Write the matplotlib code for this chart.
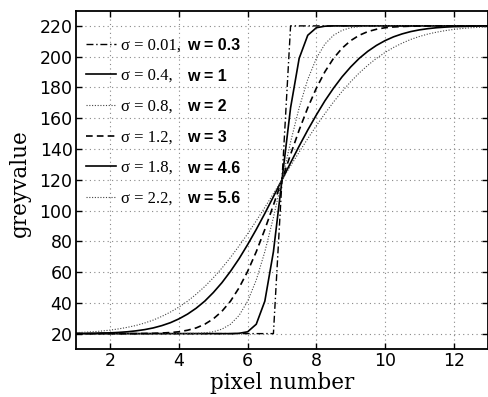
import matplotlib
matplotlib.use("Agg")
import matplotlib.pyplot as plt

# ---- data ----
x = [1.0, 1.25, 1.5, 1.75, 2.0, 2.25, 2.5, 2.75, 3.0, 3.25, 3.5, 3.75,
     4.0, 4.25, 4.5, 4.75, 5.0, 5.25, 5.5, 5.75, 6.0, 6.25, 6.5, 6.75,
     7.0,
     7.25, 7.5, 7.75, 8.0, 8.25, 8.5, 8.75, 9.0, 9.25, 9.5, 9.75, 10.0,
     10.25, 10.5, 10.75, 11.0, 11.25, 11.5, 11.75, 12.0, 12.25, 12.5, 12.75, 13.0]

y_s001 = [20.0, 20.0, 20.0, 20.0, 20.0, 20.0, 20.0, 20.0, 20.0, 20.0, 20.0, 20.0,
          20.0, 20.0, 20.0, 20.0, 20.0, 20.0, 20.0, 20.0, 20.0, 20.0, 20.0, 20.0,
          120.0,
          220.0, 220.0, 220.0, 220.0, 220.0, 220.0, 220.0, 220.0, 220.0, 220.0, 220.0, 220.0,
          220.0, 220.0, 220.0, 220.0, 220.0, 220.0, 220.0, 220.0, 220.0, 220.0, 220.0, 220.0]

y_s04 = [20.0, 20.0, 20.0, 20.0, 20.0, 20.0, 20.0, 20.0, 20.0, 20.0, 20.0, 20.0,
         20.0, 20.0, 20.0, 20.0, 20.0, 20.0, 20.0, 20.2, 21.2, 26.1, 41.1, 73.2,
         120.0,
         166.8, 198.9, 213.9, 218.8, 219.8, 220.0, 220.0, 220.0, 220.0, 220.0, 220.0, 220.0,
         220.0, 220.0, 220.0, 220.0, 220.0, 220.0, 220.0, 220.0, 220.0, 220.0, 220.0, 220.0]

y_s08 = [20.0, 20.0, 20.0, 20.0, 20.0, 20.0, 20.0, 20.0, 20.0, 20.0, 20.0, 20.0,
         20.0, 20.1, 20.2, 20.5, 21.2, 22.9, 26.1, 31.8, 41.1, 54.8, 73.2, 95.5,
         120.0,
         144.5, 166.8, 185.2, 198.9, 208.2, 213.9, 217.1, 218.8, 219.5, 219.8, 219.9, 220.0,
         220.0, 220.0, 220.0, 220.0, 220.0, 220.0, 220.0, 220.0, 220.0, 220.0, 220.0, 220.0]

y_s12 = [20.0, 20.0, 20.0, 20.0, 20.0, 20.0, 20.0, 20.0, 20.1, 20.2, 20.4, 20.7,
         21.2, 22.2, 23.7, 26.1, 29.6, 34.5, 41.1, 49.8, 60.5, 73.2, 87.7, 103.5,
         120.0,
         136.5, 152.3, 166.8, 179.5, 190.2, 198.9, 205.5, 210.4, 213.9, 216.3, 217.8, 218.8,
         219.3, 219.6, 219.8, 219.9, 220.0, 220.0, 220.0, 220.0, 220.0, 220.0, 220.0, 220.0]

y_s18 = [20.1, 20.1, 20.2, 20.4, 20.5, 20.8, 21.2, 21.8, 22.6, 23.7, 25.2, 27.1,
         29.6, 32.7, 36.5, 41.1, 46.7, 53.1, 60.5, 68.7, 77.9, 87.7, 98.1, 109.0,
         120.0,
         131.0, 141.9, 152.3, 162.1, 171.3, 179.5, 186.9, 193.3, 198.9, 203.5, 207.3, 210.4,
         212.9, 214.8, 216.3, 217.4, 218.2, 218.8, 219.2, 219.5, 219.6, 219.8, 219.9, 219.9]

y_s22 = [20.6, 20.9, 21.2, 21.7, 22.3, 23.1, 24.1, 25.3, 26.9, 28.8, 31.2, 34.0,
         37.3, 41.1, 45.6, 50.6, 56.3, 62.6, 69.5, 77.0, 84.9, 93.3, 102.0, 111.0,
         120.0,
         129.0, 138.0, 146.7, 155.1, 163.0, 170.5, 177.4, 183.7, 189.4, 194.4, 198.9, 202.7,
         206.0, 208.8, 211.2, 213.1, 214.7, 215.9, 216.9, 217.7, 218.3, 218.8, 219.1, 219.4]

sigma_labels = ["σ = 0.01,", "σ = 0.4,", "σ = 0.8,", "σ = 1.2,", "σ = 1.8,", "σ = 2.2,"]
w_labels = ["w = 0.3", "w = 1", "w = 2", "w = 3", "w = 4.6", "w = 5.6"]
series = [y_s001, y_s04, y_s08, y_s12, y_s18, y_s22]

x_ticks = [2, 4, 6, 8, 10, 12]
y_ticks = [20, 40, 60, 80, 100, 120, 140, 160, 180, 200, 220]

# ---- styling ----
styles = [
    dict(color="black", lw=1.0, linestyle=(0, (5, 2, 1, 2))),
    dict(color="black", lw=1.2, linestyle="-"),
    dict(color="#444444", lw=0.8, linestyle=(0, (1, 1.5))),
    dict(color="black", lw=1.2, linestyle=(0, (4, 2.5))),
    dict(color="black", lw=1.2, linestyle="-"),
    dict(color="#444444", lw=0.8, linestyle=(0, (1, 1.5))),
]

fig = plt.figure(figsize=(4.89, 3.97), dpi=100)
ax_h = 349 - 10.5
ax = fig.add_axes([76 / 489, 1 - 349 / 397, 412 / 489, ax_h / 397])

for ys, st, lab in zip(series, styles, sigma_labels):
    ax.plot(x, ys, label=lab, **st)

ax.set_xlim(1, 13)
ax.set_ylim(10, 230)
ax.set_xticks(x_ticks)
ax.set_yticks(y_ticks)
ax.grid(True, linestyle=(0, (1, 3)), color="#888888", lw=0.8)
ax.tick_params(direction="in", length=4, width=1, top=True, right=True,
               labelsize=12.5)
ax.tick_params(axis="x", pad=2.5)
ax.tick_params(axis="y", pad=2.5)
for lab in ax.get_xticklabels() + ax.get_yticklabels():
    lab.set_fontfamily("DejaVu Sans")
for sp in ax.spines.values():
    sp.set_linewidth(1.3)

ax.set_xlabel("pixel number", family="DejaVu Serif", fontsize=15.5)
ax.set_ylabel("greyvalue", family="DejaVu Serif", fontsize=15.5)
ax.xaxis.set_label_coords(0.5, -(372 - 349) / ax_h)
ax.yaxis.set_label_coords(-(76 - 31) / 412, 0.49)

leg = ax.legend(loc="upper left", bbox_to_anchor=(-0.005, 0.955), frameon=False,
                prop=dict(family="Liberation Serif", size=12),
                handlelength=1.8, handletextpad=0.35, labelspacing=0.88,
                borderaxespad=0.3)

fig.canvas.draw()
inv = ax.transAxes.inverted()
x_w = (187 - 76) / 412
for t, wl in zip(leg.get_texts(), w_labels):
    bb = t.get_window_extent()
    cy = (bb.y0 + bb.y1) / 2
    _, ya = inv.transform((0, cy))
    ax.text(x_w, ya, wl, transform=ax.transAxes, va="center", ha="left",
            family="Liberation Sans", fontsize=11.5, fontweight="bold")

fig.savefig("out.png", dpi=100)
